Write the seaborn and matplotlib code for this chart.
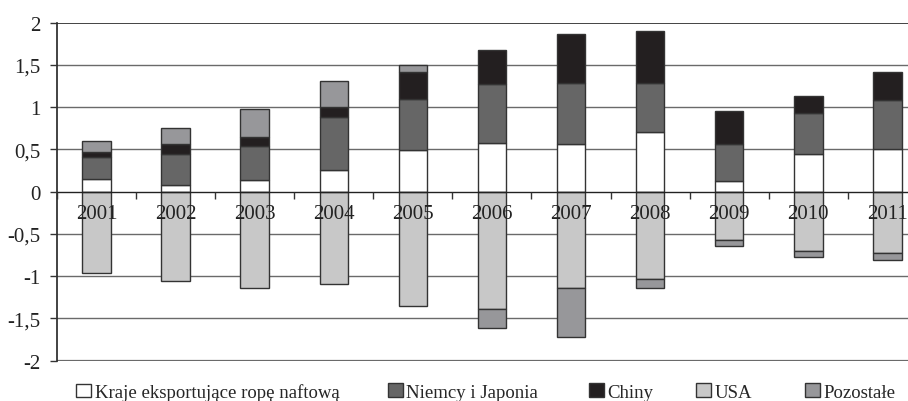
import matplotlib
matplotlib.use("Agg")
import matplotlib.pyplot as plt
import numpy as np
import seaborn as sns
from matplotlib.patches import Patch
from matplotlib.ticker import FuncFormatter, FixedLocator

years = ["2001", "2002", "2003", "2004", "2005", "2006", "2007", "2008", "2009", "2010", "2011"]
kraje = [0.145, 0.075, 0.14, 0.25, 0.49, 0.58, 0.56, 0.70, 0.12, 0.445, 0.50]
niemcy_japonia = [0.265, 0.365, 0.395, 0.635, 0.605, 0.69, 0.73, 0.59, 0.44, 0.49, 0.58]
chiny = [0.06, 0.12, 0.11, 0.12, 0.315, 0.41, 0.57, 0.61, 0.39, 0.20, 0.335]
usa = [-0.97, -1.06, -1.14, -1.10, -1.36, -1.395, -1.145, -1.04, -0.57, -0.70, -0.727]
pozostale = [0.13, 0.19, 0.335, 0.305, 0.09, -0.215, -0.58, -0.10, -0.08, -0.075, -0.083]

series_names = ["Kraje eksportujące ropę naftową", "Niemcy i Japonia", "Chiny", "USA", "Pozostałe"]
colors = ["#ffffff", "#666666", "#231f20", "#c8c8c8", "#97979a"]

sns.set_theme(style="white")
plt.rcParams["font.family"] = ["Liberation Serif", "DejaVu Serif"]
plt.rcParams["axes.unicode_minus"] = False

fig = plt.figure(figsize=(9.08, 4.02), dpi=100)
ax = fig.add_axes([0.0628, 0.1007, 0.958, 0.8408])

k = np.array(kraje)
nj = np.array(niemcy_japonia)
ch = np.array(chiny)
us = np.array(usa)
po = np.array(pozostale)

bottoms = [
    np.zeros_like(k),
    k,
    k + nj,
    np.zeros_like(us),
    np.where(po >= 0, k + nj + ch, us),
]
values = [k, nj, ch, us, po]

for name, vals, bot, col in zip(series_names, values, bottoms, colors):
    sns.barplot(x=years, y=vals, bottom=bot, color=col, saturation=1,
                edgecolor="#333333", linewidth=1, width=0.36,
                errorbar=None, ax=ax, zorder=2)

# horizontal grid below bars
for v in np.arange(-2, 2.01, 0.5):
    if v == 0:
        continue
    if v == 2:
        ax.axhline(v, color="#222222", lw=1.2, zorder=0)
    elif v == -2:
        ax.axhline(v, color="#6a6a6a", lw=1.6, zorder=0)
    else:
        ax.axhline(v, color="#6a6a6a", lw=1.0, zorder=0)

ax.set_axisbelow(False)
ax.set_xlim(-0.5, 10.5)
ax.set_ylim(-2, 2)
ax.set_xlabel("")
ax.set_ylabel("")

ax.yaxis.set_major_locator(FixedLocator(np.arange(-2, 2.01, 0.5)))
ax.yaxis.set_major_formatter(FuncFormatter(lambda v, p: f"{v:g}".replace(".", ",")))
ax.tick_params(axis="y", length=5, width=1, color="#333333", pad=7, labelsize=15,
               labelcolor="#222222", left=True)

ax.spines["bottom"].set_position(("data", 0))
ax.spines["bottom"].set_color("#222222")
ax.spines["bottom"].set_linewidth(1)
ax.spines["left"].set_color("#222222")
ax.spines["left"].set_linewidth(1.2)
ax.spines["top"].set_visible(False)
ax.spines["right"].set_visible(False)

ax.xaxis.set_minor_locator(FixedLocator(np.arange(-0.5, 10.6, 1)))
ax.tick_params(axis="x", which="major", length=0, pad=9, labelsize=15, labelcolor="#222222")
ax.tick_params(axis="x", which="minor", length=5, width=1, color="#333333", direction="out", bottom=True)

# legend entries placed one by one, like the original layout
legend_x = [0.0835, 0.427, 0.6485, 0.7665, 0.8865]
for name, col, lx in zip(series_names, colors, legend_x):
    handle = Patch(facecolor=col, edgecolor="#333333", linewidth=1)
    fig.legend([handle], [name], loc="center left", bbox_to_anchor=(lx, 0.022),
               frameon=False, fontsize=13.5, handlelength=0.8, handleheight=0.75,
               handletextpad=0.2, borderpad=0, borderaxespad=0)

fig.savefig("out.png", dpi=100)
